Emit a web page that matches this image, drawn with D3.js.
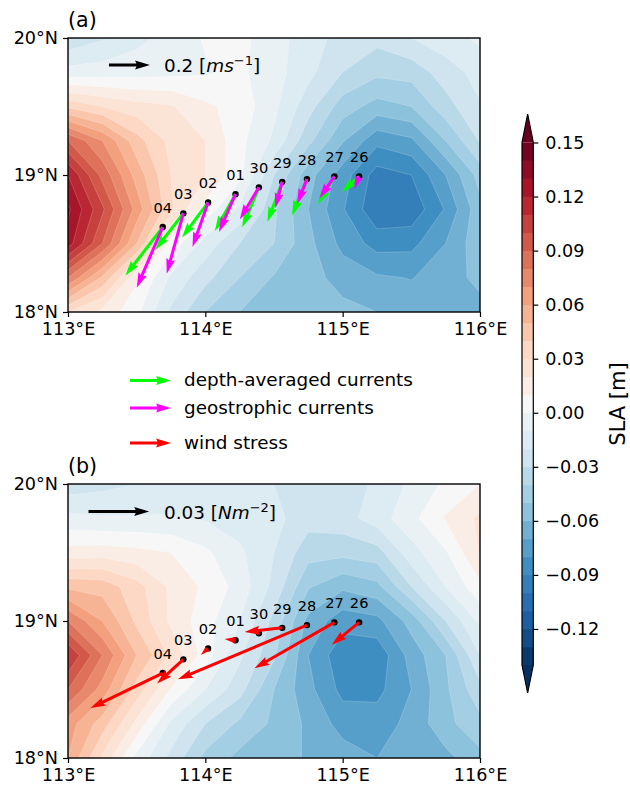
<!DOCTYPE html>
<html>
<head>
<meta charset="utf-8">
<script src="https://cdn.jsdelivr.net/npm/d3@7"></script>
<style>
    body { margin: 0; background: #fff; }
    text { font-family: "DejaVu Sans"; fill: #000; }
</style>
</head>
<body>
<svg id="fig" width="630" height="790"></svg>
<script>
// SLA grid, rows 20N to 18N, columns 113E to 116E, every 0.25 deg
const slaA = [
    [-0.028,-0.021,-0.013,-0.006, 0.001, 0.003,-0.006,-0.015,-0.024,-0.027,-0.020,-0.014,-0.008],
    [-0.006,-0.005,-0.004,-0.003,-0.001, 0.002,-0.006,-0.017,-0.030,-0.0375,-0.036,-0.025,-0.016],
    [ 0.038, 0.030, 0.024, 0.021, 0.012, 0.006,-0.0075,-0.026,-0.045,-0.054,-0.050,-0.034,-0.021],
    [ 0.090, 0.070, 0.044, 0.027, 0.020, 0.003,-0.012,-0.037,-0.059,-0.077,-0.072,-0.050,-0.029],
    [ 0.120, 0.087, 0.056, 0.030, 0.020, 0.003,-0.030,-0.056,-0.075,-0.0945,-0.090,-0.070,-0.046],
    [ 0.132, 0.102, 0.066, 0.032, 0.006,-0.012,-0.038,-0.060,-0.079,-0.098,-0.097,-0.079,-0.053],
    [ 0.125, 0.090, 0.050, 0.006,-0.014,-0.030,-0.040,-0.057,-0.073,-0.084,-0.083,-0.070,-0.053],
    [ 0.080, 0.048, 0.012,-0.012,-0.027,-0.040,-0.051,-0.056,-0.064,-0.0685,-0.0705,-0.065,-0.057],
    [ 0.030, 0.017, 0.003,-0.022,-0.040,-0.050,-0.056,-0.059,-0.057,-0.060,-0.063,-0.064,-0.064]
];
const slaB = [
    [-0.026,-0.023,-0.020,-0.017,-0.016,-0.017,-0.020,-0.024,-0.026,-0.018,-0.008, 0.002, 0.010],
    [-0.007,-0.009,-0.009,-0.009,-0.011,-0.015,-0.017,-0.026,-0.024,-0.015,-0.003, 0.011, 0.022],
    [ 0.014, 0.015, 0.013, 0.010, 0.002,-0.008,-0.020,-0.036,-0.037,-0.034,-0.014,-0.001, 0.021],
    [ 0.048, 0.046, 0.034, 0.018, 0.008,-0.004,-0.023,-0.049,-0.058,-0.053,-0.030,-0.010, 0.007],
    [ 0.080, 0.060, 0.038, 0.018, 0.004,-0.010,-0.033,-0.063,-0.076,-0.073,-0.056,-0.030,-0.008],
    [ 0.110, 0.080, 0.050, 0.028, 0.005,-0.018,-0.038,-0.070,-0.087,-0.087,-0.066,-0.050,-0.020],
    [ 0.090, 0.066, 0.036, 0.009,-0.010,-0.026,-0.050,-0.067,-0.083,-0.083,-0.070,-0.052,-0.033],
    [ 0.065, 0.045, 0.017,-0.012,-0.030,-0.042,-0.052,-0.062,-0.074,-0.075,-0.067,-0.053,-0.043],
    [ 0.060, 0.028,-0.003,-0.023,-0.043,-0.053,-0.056,-0.061,-0.065,-0.070,-0.070,-0.063,-0.053]
];

// mooring positions, one per day
const days = ["26", "27", "28", "29", "30", "01", "02", "03", "04"];
const lon = [115.12, 114.94, 114.74, 114.56, 114.39, 114.22, 114.02, 113.84, 113.69];
const lat = [18.99, 18.99, 18.97, 18.95, 18.91, 18.86, 18.80, 18.72, 18.62];

const depthU = [-0.084, -0.081, -0.073, -0.072, -0.081, -0.101, -0.127, -0.137, -0.182];
const depthV = [-0.076, -0.135, -0.177, -0.195, -0.195, -0.179, -0.171, -0.177, -0.236];
const geoU = [-0.024, -0.073, -0.047, -0.034, -0.093, -0.081, -0.076, -0.081, -0.127];
const geoV = [-0.061, -0.107, -0.120, -0.127, -0.156, -0.184, -0.218, -0.294, -0.296];
const tauX = [-0.0135, -0.0395, -0.0638, -0.0186, -0.0030, -0.0054, -0.0036, -0.0130, -0.0357];
const tauY = [-0.0110, -0.0227, -0.0268, -0.0020, 0.0005, 0.0006, -0.0033, -0.0119, -0.0173];

const lonTicks = [113, 114, 115, 116];
const latTicks = [18, 19, 20];
const cbarTicks = [0.15, 0.12, 0.09, 0.06, 0.03, 0, -0.03, -0.06, -0.09, -0.12];
const levels = d3.range(-14, 15).map(d => d / 100);

const rdbu = ["#053061", "#2166ac", "#4393c3", "#92c5de", "#d1e5f0", "#f7f7f7",
    "#fddbc7", "#f4a582", "#d6604d", "#b2182b", "#67001f"];
const cmap = d3.scaleLinear().domain(d3.range(11).map(d => d / 10)).range(rdbu);
const bandColor = lev => cmap((lev + 0.005 + 0.14) / 0.29);

const svg = d3.select("#fig");
const fontTick = 17.6, fontText = 18.4;

function drawPanel(opt) {
    let x = d3.scaleLinear().domain([113, 116]).range([68, 480]);
    let y = d3.scaleLinear().domain([18, 20]).range(opt.yRange);
    let g = svg.append("g");

    g.append("clipPath").attr("id", "clip" + opt.name)
        .append("rect")
        .attr("x", 68).attr("y", opt.yRange[1])
        .attr("width", 412).attr("height", opt.yRange[0] - opt.yRange[1]);

    // d3 puts grid node i at contour coordinate i + 0.5
    let project = d3.geoTransform({
        point: function(cx, cy) {
            this.stream.point(x(113 + (cx - 0.5) * 0.25), y(20 - (cy - 0.5) * 0.25));
        }
    });
    let path = d3.geoPath(project);
    let contours = d3.contours().size([13, 9]).thresholds(levels)(opt.grid.flat());

    let body = g.append("g").attr("clip-path", `url(#clip${opt.name})`);
    body.append("rect")
        .attr("x", 68).attr("y", opt.yRange[1])
        .attr("width", 412).attr("height", opt.yRange[0] - opt.yRange[1])
        .attr("fill", "#053061");
    body.selectAll("path")
        .data(contours)
        .enter()
        .append("path")
        .attr("d", path)
        .attr("fill", d => bandColor(d.value))
        .attr("stroke", "#fff")
        .attr("stroke-opacity", 0.3)
        .attr("stroke-width", 0.6);

    // markers go under the arrows
    g.selectAll("circle")
        .data(days)
        .enter()
        .append("circle")
        .attr("cx", (d, i) => x(lon[i]))
        .attr("cy", (d, i) => y(lat[i]))
        .attr("r", 3.2)
        .attr("fill", "#000");

    opt.vectors.forEach(v => {
        days.forEach((d, i) => {
            drawArrow(g, x(lon[i]), y(lat[i]),
                opt.scale(v.u[i]), -opt.scale(v.v[i]), v.color);
        });
    });

    g.selectAll("text.day")
        .data(days)
        .enter()
        .append("text")
        .attr("class", "day")
        .attr("x", (d, i) => x(lon[i]))
        .attr("y", (d, i) => y(lat[i]) - 14)
        .attr("text-anchor", "middle")
        .style("font-size", "14.6px")
        .text(d => d);

    // frame and axes
    g.append("rect")
        .attr("x", 68).attr("y", opt.yRange[1])
        .attr("width", 412).attr("height", opt.yRange[0] - opt.yRange[1])
        .attr("fill", "none").attr("stroke", "#000").attr("stroke-width", 1.4);

    let xAxis = d3.axisBottom(x).tickValues(lonTicks).tickFormat(d => d + "°E").tickSize(5).tickPadding(6);
    let yAxis = d3.axisLeft(y).tickValues(latTicks).tickFormat(d => d + "°N").tickSize(5).tickPadding(5);
    let xg = g.append("g").attr("transform", `translate(0,${opt.yRange[0]})`).call(xAxis);
    let yg = g.append("g").attr("transform", "translate(68,0)").call(yAxis);
    [xg, yg].forEach(a => {
        a.select(".domain").remove();
        a.selectAll("line").attr("stroke", "#000").attr("stroke-width", 1.2);
        a.selectAll("text").style("font-size", fontTick + "px").style("font-family", "DejaVu Sans");
    });

    g.append("text")
        .attr("x", 68).attr("y", opt.yRange[1] - 11)
        .style("font-size", "20.6px")
        .text(opt.title);

    // reference arrow
    drawArrow(g, opt.keyX, opt.keyY, opt.scale(opt.keyValue), 0, "#000");
    let keyText = g.append("text")
        .attr("x", 164).attr("y", opt.keyY + 7)
        .style("font-size", fontText + "px");
    keyText.append("tspan").text(opt.keyValue + " [");
    keyText.append("tspan").style("font-style", "italic").text(opt.keyUnit);
    keyText.append("tspan").attr("dy", -7).style("font-size", "13px").text(opt.keyPow);
    keyText.append("tspan").attr("dy", 7).text("]");
}

// quiver style arrow: shaft 3, head 3x wide, 5x long, short ones shrink as a whole
function drawArrow(g, x0, y0, dx, dy, color) {
    let w = 3, hl = 5 * w, hal = 4.5 * w, hw = 3 * w;
    let len = Math.sqrt(dx * dx + dy * dy);
    let k = len < hl ? len / hl : 1;
    let L = len / k;
    let pts = [[0, -w / 2], [L - hal, -w / 2], [L - hl, -hw / 2], [L, 0],
        [L - hl, hw / 2], [L - hal, w / 2], [0, w / 2]];
    g.append("polygon")
        .attr("points", pts.map(p => p.join(",")).join(" "))
        .attr("transform", `translate(${x0},${y0}) rotate(${Math.atan2(dy, dx) * 180 / Math.PI}) scale(${k})`)
        .attr("fill", color);
}

function drawLegend() {
    let items = [
        { label: "depth-averaged currents", color: "#00ff00", y: 380.5 },
        { label: "geostrophic currents", color: "#ff00ff", y: 408 },
        { label: "wind stress", color: "#ff0000", y: 443 }
    ];
    items.forEach(d => {
        drawArrow(svg, 130, d.y, 41, 0, d.color);
        svg.append("text")
            .attr("x", 184).attr("y", d.y + 5.5)
            .style("font-size", fontText + "px")
            .text(d.label);
    });
}

function drawColorbar() {
    let y = d3.scaleLinear().domain([-0.14, 0.15]).range([665, 142.5]);
    let cx0 = 522, cw = 11.3, cMid = cx0 + cw / 2;
    let g = svg.append("g");

    g.selectAll("rect.band")
        .data(levels)
        .enter()
        .append("rect")
        .attr("class", "band")
        .attr("x", cx0).attr("width", cw)
        .attr("y", d => y(d + 0.01))
        .attr("height", d => y(d) - y(d + 0.01) + 0.4)
        .attr("fill", d => bandColor(d));

    g.append("polygon")
        .attr("points", `${cx0},${y(0.15)} ${cMid},114 ${cx0 + cw},${y(0.15)}`)
        .attr("fill", "#67001f");
    g.append("polygon")
        .attr("points", `${cx0},${y(-0.14)} ${cMid},693 ${cx0 + cw},${y(-0.14)}`)
        .attr("fill", "#053061");
    g.append("polygon")
        .attr("points", `${cx0},${y(0.15)} ${cMid},114 ${cx0 + cw},${y(0.15)} ${cx0 + cw},${y(-0.14)} ${cMid},693 ${cx0},${y(-0.14)}`)
        .attr("fill", "none").attr("stroke", "#000").attr("stroke-width", 1.2);

    let axis = d3.axisRight(y).tickValues(cbarTicks)
        .tickFormat(d => (d < 0 ? "\u2212" : "") + Math.abs(d).toFixed(2))
        .tickSize(5).tickPadding(7);
    let ag = g.append("g").attr("transform", `translate(${cx0 + cw},0)`).call(axis);
    ag.select(".domain").remove();
    ag.selectAll("line").attr("stroke", "#000").attr("stroke-width", 1.2);
    ag.selectAll("text").style("font-size", fontTick + "px").style("font-family", "DejaVu Sans");

    g.append("text")
        .attr("transform", "translate(625,404) rotate(-90)")
        .attr("text-anchor", "middle")
        .style("font-size", "21px")
        .text("SLA [m]");
}

drawPanel({
    name: "a", title: "(a)", grid: slaA, yRange: [312, 38],
    scale: d3.scaleLinear().domain([0, 0.2]).range([0, 41]),
    vectors: [{ u: depthU, v: depthV, color: "#00ff00" }, { u: geoU, v: geoV, color: "#ff00ff" }],
    keyX: 109, keyY: 65, keyValue: 0.2, keyUnit: "ms", keyPow: "\u22121"
});
drawPanel({
    name: "b", title: "(b)", grid: slaB, yRange: [758, 484],
    scale: d3.scaleLinear().domain([0, 0.03]).range([0, 60.7]),
    vectors: [{ u: tauX, v: tauY, color: "#ff0000" }],
    keyX: 88.5, keyY: 511.5, keyValue: 0.03, keyUnit: "Nm", keyPow: "\u22122"
});
drawLegend();
drawColorbar();
</script>
</body>
</html>
